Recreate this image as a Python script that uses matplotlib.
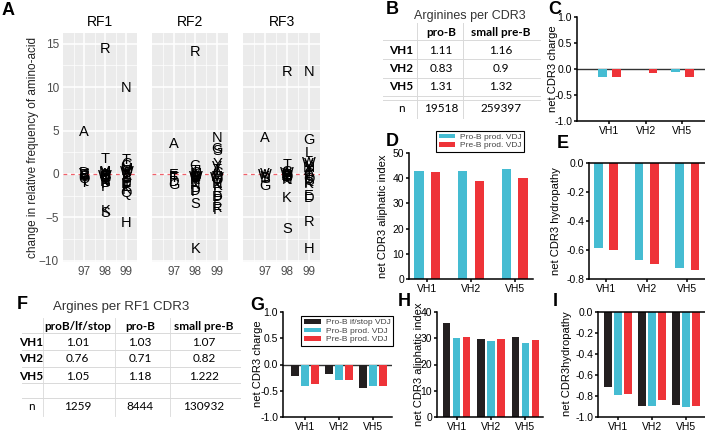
import matplotlib.pyplot as plt
import numpy as np

plt.rcParams['font.family'] = ['Liberation Sans', 'DejaVu Sans']

W, H = 705, 432

# ---------------- data ----------------
rf_names = ['RF1', 'RF2', 'RF3']
codon_pos = [97, 98, 99]

rf1_aa = {97: "ADEGQSVYT", 98: "RTKSACDEFGILMNPQVWY", 99: "NHTCGMRWYVAPSILDFEKQ"}
rf1_val = {97: [4.8, 0.1, -0.1, -0.4, -0.6, -0.2, 0.0, -0.8, -1.0],
           98: [14.4, 1.7, -4.3, -4.5, 0.0, -0.2, -0.4, -0.3, -1.2, -0.1, -0.7, -0.5, 0.2, -0.9, -1.5, -0.6, 0.1, -0.2, -0.4],
           99: [9.9, -5.6, 1.6, 1.2, 0.9, 0.6, 0.4, 0.2, 0.0, 0.1, -0.2, -0.4, -0.6, -0.8, -1.0, -1.2, -1.4, -1.5, -1.8, -2.2]}

rf2_aa = {97: "AEFTDG", 98: "RKGTCAEQVYHIFLMWNDPS", 99: "NGSYVTACLMWQIHKEDPRF"}
rf2_val = {97: [3.5, -0.1, -0.3, -0.5, -0.9, -1.3],
           98: [14.0, -8.6, 0.9, 0.3, 0.1, -0.1, -0.3, -0.4, -0.5, -0.6, -0.7, -0.8, -0.9, -0.2, 0.0, -0.3, -1.3, -2.0, -2.1, -3.5],
           99: [4.1, 2.9, 2.6, 1.1, 0.8, 0.5, 0.3, 0.1, -0.1, -0.3, -0.5, -0.7, -0.9, -1.1, -1.4, -2.2, -2.6, -3.0, -3.9, -4.2]}

rf3_aa = {97: "AVWYDSG", 98: "RTKSACDEFGHILMNPQVWY", 99: "NGLWVYMATCFIQSPKEDRH"}
rf3_val = {97: [4.1, 0.0, -0.1, -0.3, -0.5, -0.6, -1.4],
           98: [11.7, 1.0, -2.8, -6.3, 0.0, -0.2, -0.4, -0.1, -0.6, 0.2, -0.3, -0.5, 0.1, -0.2, -0.7, -0.4, -0.3, 0.0, 0.1, -0.5],
           99: [11.7, 3.9, 2.4, 1.3, 1.1, 0.9, 0.7, 0.4, 0.2, 0.0, -0.2, -0.4, -0.6, -0.8, -1.0, -1.2, -2.5, -2.8, -5.5, -8.7]}

vh = ['VH1', 'VH2', 'VH5']

# table B
b_cols = ['pro-B', 'small pre-B']
b_prob = [1.11, 0.83, 1.31]
b_smallpreb = [1.16, 0.9, 1.32]
b_n = [19518, 259397]

# table F
f_cols = ['proB/lf/stop', 'pro-B', 'small pre-B']
f_lfstop = [1.01, 0.76, 1.05]
f_prob = [1.03, 0.71, 1.18]
f_smallpreb = [1.07, 0.82, 1.222]
f_n = [1259, 8444, 130932]

# C, D, E  (pro-B prod, pre-B prod)
c_prob = [-0.15, -0.005, -0.05]
c_preb = [-0.15, -0.08, -0.15]
d_prob = [42.7, 42.7, 43.5]
d_preb = [42.3, 38.7, 39.9]
e_prob = [-0.586, -0.671, -0.722]
e_preb = [-0.602, -0.694, -0.736]

# G, H, I  (pro-B lf/stop, pro-B prod, pre-B prod)
g_lf = [-0.22, -0.19, -0.45]
g_prob = [-0.40, -0.30, -0.41]
g_preb = [-0.38, -0.30, -0.41]
h_lf = [35.8, 29.8, 30.5]
h_prob = [30.1, 28.8, 28.2]
h_preb = [30.5, 29.8, 29.2]
i_lf = [-0.71, -0.893, -0.89]
i_prob = [-0.79, -0.896, -0.908]
i_preb = [-0.78, -0.842, -0.899]

CYAN = '#45BCD2'
RED = '#EE3338'
BLACK = '#231F20'


def box(x0, y0, x1, y1):
    return [x0 / W, 1 - y1 / H, (x1 - x0) / W, (y1 - y0) / H]


fig = plt.figure(figsize=(W / 100, H / 100), dpi=100)

# ---------------- panel A ----------------
rf_boxes = [(63, 33, 137, 262), (152, 33, 228, 262), (243, 33, 320, 262)]
rf_aa = [rf1_aa, rf2_aa, rf3_aa]
rf_val = [rf1_val, rf2_val, rf3_val]
for k in range(3):
    ax = fig.add_axes(box(*rf_boxes[k]))
    ax.set_facecolor('#EBEBEB')
    ax.set_xlim(96.0, 99.5)
    ax.set_ylim(-10.14, 16.24)
    ax.set_xticks(codon_pos)
    ax.set_xticks([96.5, 97.5, 98.5, 99.5], minor=True)
    ax.set_yticks([-10, -5, 0, 5, 10, 15])
    ax.set_yticks([-7.5, -2.5, 2.5, 7.5, 12.5], minor=True)
    ax.grid(which='major', color='white', lw=1.1)
    ax.grid(which='minor', color='white', lw=0.5)
    ax.set_axisbelow(True)
    for s in ax.spines.values():
        s.set_visible(False)
    ax.tick_params(which='both', length=0, labelsize=8.5, labelcolor='#4D4D4D', pad=3)
    ax.tick_params(which='minor', labelleft=False, labelbottom=False)
    if k > 0:
        ax.tick_params(labelleft=False)
    ax.axhline(0, color='#F0606A', lw=0.9, ls=(0, (3, 3)), zorder=1)
    for p in codon_pos:
        for aa, v in zip(rf_aa[k][p], rf_val[k][p]):
            ax.text(p, v, aa, ha='center', va='center', fontsize=10.5, color='black', zorder=3)
    ax.set_title(rf_names[k], fontsize=10, pad=5)

fig.text(33 / W, 1 - 147 / H, 'change in relative frequency of amino-acid', rotation=90,
         ha='center', va='center', fontsize=8.5, color='#222222')


# ---------------- bar panels ----------------
def prism(ax, xlim, ylim, yticks, ylabels):
    ax.set_xlim(*xlim)
    ax.set_ylim(*ylim)
    for s in ['top', 'right']:
        ax.spines[s].set_visible(False)
    for s in ['left', 'bottom']:
        ax.spines[s].set_linewidth(1.1)
    ax.set_xticks([0, 1, 2])
    ax.set_xticklabels(vh)
    ax.set_yticks(yticks)
    ax.set_yticklabels(ylabels)
    ax.tick_params(direction='out', length=2.5, width=1.1, labelsize=7.5, pad=1)


def ylab(text, x, y):
    fig.text(x / W, 1 - y / H, text, rotation=90, ha='center', va='center', fontsize=8)


x = np.arange(3)

# C
ax_c = fig.add_axes(box(577, 17, 705, 121))
prism(ax_c, (-0.89, 2.62), (-1, 1), [-1, -0.5, 0, 0.5, 1], ['-1.0', '-0.5', '0.0', '0.5', '1.0'])
ax_c.bar(x - 0.19, c_prob, 0.23, color=CYAN)
ax_c.bar(x + 0.19, c_preb, 0.23, color=RED)
ax_c.axhline(0, color='#333333', lw=1.0, zorder=0)
ylab('net CDR3 charge', 553, 69)

# D
ax_d = fig.add_axes(box(409, 153, 533, 279))
prism(ax_d, (-0.41, 2.41), (0, 50), [0, 10, 20, 30, 40, 50], ['0', '10', '20', '30', '40', '50'])
bd1 = ax_d.bar(x - 0.19, d_prob, 0.22, color=CYAN)
bd2 = ax_d.bar(x + 0.19, d_preb, 0.22, color=RED)
ylab('net CDR3 aliphatic index', 383, 216)
leg = ax_d.legend([bd1, bd2], ['Pro-B prod. VDJ', 'Pre-B prod. VDJ'], loc='upper left',
                  bbox_to_anchor=(436 / W, 1 - 131 / H), bbox_transform=fig.transFigure,
                  fontsize=6, frameon=True, fancybox=False, edgecolor='black', framealpha=1,
                  borderpad=0.3, handlelength=2.0, handleheight=0.5, labelspacing=0.15,
                  handletextpad=0.6, borderaxespad=0)
leg.get_frame().set_linewidth(0.8)
for t in leg.get_texts():
    t.set_color('#444444')

# E
ax_e = fig.add_axes(box(589, 163, 718, 279))
prism(ax_e, (-0.42, 2.76), (-0.8, 0), [-0.8, -0.6, -0.4, -0.2, 0], ['-0.8', '-0.6', '-0.4', '-0.2', '0.0'])
ax_e.bar(x - 0.19, e_prob, 0.21, color=CYAN)
ax_e.bar(x + 0.19, e_preb, 0.21, color=RED)
ax_e.axhline(0, color='black', lw=1.1, clip_on=False)
ylab('net CDR3 hydropathy', 556, 221)

# G
ax_g = fig.add_axes(box(283, 312, 392, 417))
prism(ax_g, (-0.65, 2.56), (-1, 1), [-1, -0.5, 0, 0.5, 1], ['-1.0', '-0.5', '0.0', '0.5', '1.0'])
bg0 = ax_g.bar(x - 0.29, g_lf, 0.24, color=BLACK)
bg1 = ax_g.bar(x, g_prob, 0.24, color=CYAN)
bg2 = ax_g.bar(x + 0.29, g_preb, 0.24, color=RED)
ax_g.axhline(0, color='#333333', lw=1.0, zorder=0)
ylab('net CDR3 charge', 258, 364)
leg = ax_g.legend([bg0, bg1, bg2], ['Pro-B if/stop VDJ', 'Pro-B prod. VDJ', 'Pre-B prod. VDJ'],
                  loc='upper left', bbox_to_anchor=(301 / W, 1 - 316 / H), bbox_transform=fig.transFigure,
                  fontsize=6, frameon=True, fancybox=False, edgecolor='black', framealpha=1,
                  borderpad=0.35, handlelength=2.0, handleheight=0.5, labelspacing=0.15,
                  handletextpad=0.6, borderaxespad=0)
leg.get_frame().set_linewidth(0.8)
for t in leg.get_texts():
    t.set_color('#444444')

# H
ax_h = fig.add_axes(box(437, 312, 543, 417))
prism(ax_h, (-0.57, 2.51), (0, 40), [0, 10, 20, 30, 40], ['0', '10', '20', '30', '40'])
ax_h.bar(x - 0.29, h_lf, 0.22, color=BLACK)
ax_h.bar(x, h_prob, 0.22, color=CYAN)
ax_h.bar(x + 0.29, h_preb, 0.22, color=RED)
ylab('net CDR3 aliphatic index', 419, 364)

# I
ax_i = fig.add_axes(box(598, 312, 712, 417))
prism(ax_i, (-0.59, 2.76), (-1, 0), [-1, -0.8, -0.6, -0.4, -0.2, 0],
      ['-1.0', '-0.8', '-0.6', '-0.4', '-0.2', '0.0'])
ax_i.bar(x - 0.29, i_lf, 0.235, color=BLACK)
ax_i.bar(x, i_prob, 0.235, color=CYAN)
ax_i.bar(x + 0.29, i_preb, 0.235, color=RED)
ax_i.axhline(0, color='black', lw=1.1, clip_on=False)
ylab('net CDR3hydropathy', 567, 364)

# ---------------- tables (pixel overlay) ----------------
ov = fig.add_axes([0, 0, 1, 1])
ov.set_xlim(0, W)
ov.set_ylim(H, 0)
ov.axis('off')
LINE = '#D9D9D9'
TF = ['Lato', 'DejaVu Sans']

# table B
ov.text(470, 16, 'Arginines per CDR3', ha='center', va='center', fontsize=9, color='#333333')
b_x = [401, 441, 501]
b_y = [32, 50, 69, 87, 108]
for cx, c in zip(b_x[1:], b_cols):
    ov.text(cx, b_y[0], c, ha='center', va='center', fontsize=8.5, weight='bold', family=TF)
for r in range(3):
    ov.text(b_x[0], b_y[r + 1], vh[r], ha='center', va='center', fontsize=8.5, weight='bold', family=TF)
    ov.text(b_x[1], b_y[r + 1], str(b_prob[r]), ha='center', va='center', fontsize=8.5, family=TF)
    ov.text(b_x[2], b_y[r + 1], str(b_smallpreb[r]), ha='center', va='center', fontsize=8.5, family=TF)
ov.text(b_x[0], b_y[4], 'n', ha='center', va='center', fontsize=8.5, family=TF)
ov.text(b_x[1], b_y[4], str(b_n[0]), ha='center', va='center', fontsize=8.5, family=TF)
ov.text(b_x[2], b_y[4], str(b_n[1]), ha='center', va='center', fontsize=8.5, family=TF)
for yy in [40, 59, 78, 96, 100]:
    ov.plot([383, 540], [yy, yy], color=LINE, lw=0.7)
for xx in [417, 463]:
    ov.plot([xx, xx], [23, 118], color=LINE, lw=0.7)

# table F
ov.text(121, 307, 'Argines per RF1 CDR3', ha='center', va='center', fontsize=9.5, color='#333333')
f_x = [31, 77.5, 140, 204]
f_y = [327, 343, 359, 376, 407]
for cx, c in zip(f_x[1:], f_cols):
    ov.text(cx, f_y[0], c, ha='center', va='center', fontsize=8.5, weight='bold', family=TF)
f_data = [f_lfstop, f_prob, f_smallpreb]
for r in range(3):
    ov.text(f_x[0], f_y[r + 1], vh[r], ha='center', va='center', fontsize=8.5, weight='bold', family=TF)
    for c in range(3):
        ov.text(f_x[c + 1], f_y[r + 1], str(f_data[c][r]), ha='center', va='center', fontsize=8.5, family=TF)
ov.text(f_x[0], f_y[4], 'n', ha='center', va='center', fontsize=8.5, family=TF)
for c in range(3):
    ov.text(f_x[c + 1], f_y[4], str(f_n[c]), ha='center', va='center', fontsize=8.5, family=TF)
for yy in [333, 350, 367, 383, 398]:
    ov.plot([22, 240], [yy, yy], color=LINE, lw=0.7)
for xx in [43, 115, 170]:
    ov.plot([xx, xx], [318, 416], color=LINE, lw=0.6)

# panel letters
for lab, px, py in [('A', 2, 2), ('B', 386, 1), ('C', 548, 1), ('D', 386, 133), ('E', 557, 135),
                    ('F', 17, 296), ('G', 250, 297), ('H', 398, 293), ('I', 553, 293)]:
    fig.text(px / W, 1 - py / H, lab, ha='left', va='top', fontsize=13, weight='bold')

fig.savefig('out.png', dpi=100)
